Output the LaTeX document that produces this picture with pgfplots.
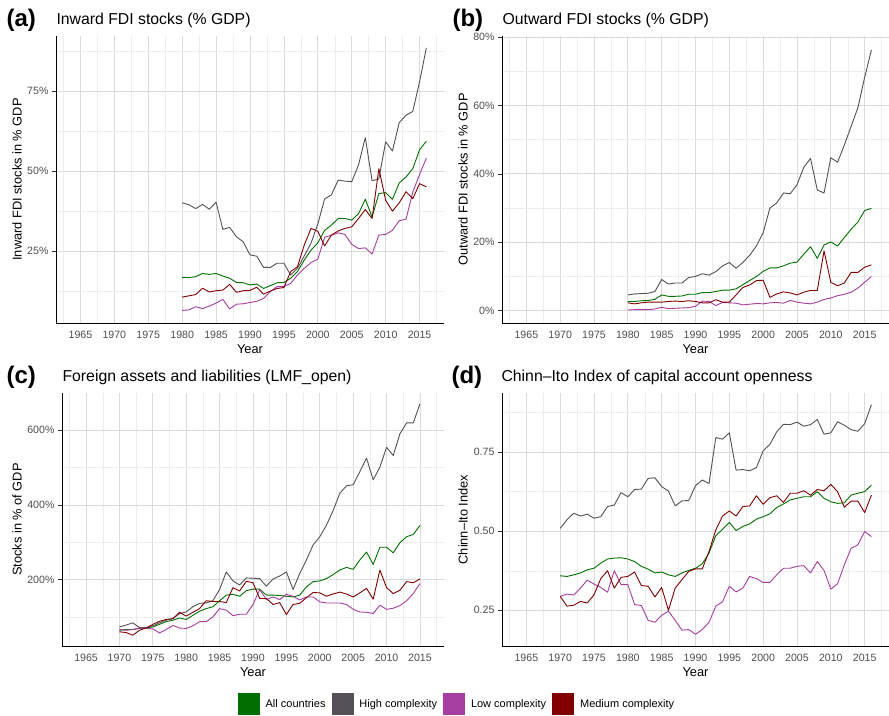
\documentclass[border=0pt]{standalone}
\usepackage{pgfplots}
\usepackage{pgfplotstable}
\pgfplotsset{compat=1.18}
\usepackage{fontspec}
\setmainfont{Liberation Sans}
\definecolor{cAll}{RGB}{0,110,0}
\definecolor{cHigh}{RGB}{85,80,88}
\definecolor{cLow}{RGB}{165,62,160}
\definecolor{cMed}{RGB}{128,0,0}
\definecolor{gridmaj}{RGB}{218,218,218}
\definecolor{gridmin}{RGB}{237,237,237}
\definecolor{ticktext}{RGB}{77,77,77}
\definecolor{tickmark}{RGB}{51,51,51}

\pgfplotstableread{
year all high low med
1980 16.8 40.1 6.4 10.6
1981 16.7 39.5 6.6 11.0
1982 17.0 38.3 7.6 11.4
1983 18.0 39.6 7.0 13.4
1984 17.7 38.1 7.8 12.2
1985 18.0 40.3 8.7 12.6
1986 17.2 31.8 9.9 12.8
1987 16.5 32.4 6.9 14.6
1988 15.2 29.5 8.4 12.1
1989 15.1 27.9 8.5 12.6
1990 14.4 23.8 8.9 12.7
1991 14.7 23.4 9.3 13.7
1992 13.3 19.9 10.2 11.5
1993 14.2 19.9 12.3 12.5
1994 15.1 21.2 13.9 13.3
1995 15.2 21.2 13.9 13.6
1996 16.5 17.5 14.9 18.6
1997 18.6 19.6 17.5 20.1
1998 22.2 23.5 19.6 26.9
1999 25.3 27.5 21.4 32.1
2000 27.6 33.5 22.5 31.2
2001 31.5 41.3 29.3 26.6
2002 33.1 42.6 30.0 30.0
2003 35.2 47.2 30.7 31.3
2004 35.2 46.9 30.2 32.1
2005 34.7 46.7 27.1 32.6
2006 36.7 52.0 25.8 35.2
2007 41.2 60.5 26.0 38.0
2008 35.7 47.0 24.1 35.2
2009 43.0 47.6 30.0 50.8
2010 43.3 59.2 30.2 40.9
2011 41.2 56.3 31.5 37.5
2012 46.3 65.2 34.5 40.1
2013 48.2 67.5 35.0 43.6
2014 50.8 68.7 43.5 41.4
2015 56.7 78.0 49.0 46.1
2016 59.4 88.6 54.1 45.1
}\tabA

\pgfplotstableread{
year all high low med
1980 2.7 4.6 0.2 2.3
1981 2.7 4.9 0.3 2.0
1982 2.9 5.0 0.3 2.3
1983 3.0 5.1 0.3 2.5
1984 3.3 5.6 0.5 2.5
1985 4.6 9.1 1.0 2.5
1986 4.2 7.8 0.6 2.7
1987 4.2 8.1 0.7 2.8
1988 4.3 8.1 0.8 2.7
1989 4.8 9.7 0.9 2.9
1990 4.8 10.0 1.3 2.7
1991 5.3 10.8 2.8 2.3
1992 5.3 10.4 2.7 2.3
1993 5.6 11.4 1.5 3.2
1994 6.0 13.1 2.4 2.5
1995 6.0 14.1 2.3 2.5
1996 6.4 12.4 2.2 4.6
1997 7.6 14.1 1.7 6.8
1998 8.8 16.2 1.9 7.5
1999 10.0 18.9 2.1 8.8
2000 11.5 22.8 2.0 8.9
2001 12.5 30.0 2.3 3.9
2002 12.5 31.5 2.4 4.9
2003 13.1 34.4 2.2 5.5
2004 13.9 34.2 3.0 5.2
2005 14.2 36.8 2.5 4.6
2006 16.5 41.9 2.2 5.4
2007 18.7 44.5 2.0 5.9
2008 15.3 35.3 2.5 5.9
2009 19.2 34.4 3.3 17.5
2010 20.1 44.7 3.7 8.3
2011 18.9 43.4 4.4 7.3
2012 21.4 48.4 4.8 8.1
2013 23.8 53.9 5.4 11.2
2014 25.9 59.3 6.6 11.2
2015 29.3 68.2 8.3 12.7
2016 29.9 76.2 10.0 13.4
}\tabB

\pgfplotstableread{
year all high low med
1970 65 74 67 61
1971 67 79 65 59
1972 67 85 67 52
1973 70 72 71 65
1974 72 72 70 71
1975 74 77 69 81
1976 81 85 58 89
1977 88 92 67 94
1978 92 96 78 96
1979 98 110 71 113
1980 94 114 70 103
1981 105 128 77 113
1982 116 137 88 123
1983 123 138 88 144
1984 128 144 101 142
1985 144 174 123 142
1986 159 221 119 139
1987 161 197 104 179
1988 156 186 108 170
1989 171 205 108 196
1990 175 204 134 192
1991 175 203 174 150
1992 159 183 147 150
1993 159 202 154 134
1994 158 210 147 139
1995 156 221 161 107
1996 154 174 156 134
1997 159 217 146 137
1998 181 253 154 152
1999 195 293 154 166
2000 197 315 141 165
2001 203 346 138 156
2002 214 385 138 162
2003 226 431 138 167
2004 233 451 134 162
2005 228 454 121 154
2006 253 489 114 165
2007 274 525 113 177
2008 241 467 110 148
2009 287 501 132 226
2010 287 554 121 179
2011 272 532 124 163
2012 299 590 131 172
2013 315 619 144 195
2014 321 619 163 192
2015 345 670 190 202
}\tabC

\pgfplotstableread{
year all high low med
1970 0.359 0.509 0.294 0.294
1971 0.357 0.536 0.301 0.263
1972 0.362 0.557 0.298 0.266
1973 0.368 0.548 0.320 0.278
1974 0.378 0.554 0.345 0.273
1975 0.383 0.541 0.333 0.299
1976 0.399 0.546 0.322 0.350
1977 0.412 0.578 0.307 0.375
1978 0.415 0.583 0.375 0.320
1979 0.416 0.622 0.331 0.354
1980 0.412 0.609 0.331 0.357
1981 0.404 0.632 0.268 0.371
1982 0.389 0.633 0.265 0.328
1983 0.380 0.667 0.218 0.326
1984 0.368 0.669 0.212 0.292
1985 0.371 0.641 0.234 0.322
1986 0.362 0.627 0.247 0.250
1987 0.357 0.580 0.218 0.320
1988 0.368 0.596 0.187 0.347
1989 0.376 0.597 0.189 0.373
1990 0.383 0.644 0.174 0.381
1991 0.397 0.662 0.189 0.381
1992 0.431 0.651 0.212 0.436
1993 0.486 0.796 0.263 0.504
1994 0.506 0.791 0.277 0.548
1995 0.528 0.811 0.326 0.564
1996 0.502 0.693 0.308 0.548
1997 0.515 0.695 0.320 0.578
1998 0.523 0.691 0.357 0.580
1999 0.538 0.701 0.350 0.612
2000 0.546 0.754 0.338 0.585
2001 0.555 0.775 0.338 0.606
2002 0.575 0.814 0.362 0.612
2003 0.586 0.838 0.383 0.591
2004 0.599 0.837 0.383 0.620
2005 0.604 0.845 0.389 0.620
2006 0.609 0.832 0.391 0.628
2007 0.609 0.837 0.368 0.614
2008 0.625 0.853 0.404 0.632
2009 0.604 0.807 0.376 0.628
2010 0.593 0.811 0.317 0.648
2011 0.588 0.846 0.334 0.625
2012 0.590 0.835 0.394 0.576
2013 0.614 0.821 0.446 0.595
2014 0.620 0.816 0.457 0.595
2015 0.625 0.840 0.499 0.559
2016 0.646 0.900 0.483 0.614
}\tabD

\pgfplotsset{
  panel/.style={
    scale only axis, anchor=north west,
    xmin=1961.4, xmax=2018.6,
    axis x line*=bottom, axis y line*=left,
    axis line style={black, line width=0.8pt, -},
    xtick={1965,1970,...,2015},
    xticklabels={1965,1970,1975,1980,1985,1990,1995,2000,2005,2010,2015},
    minor xtick={1962.5,1967.5,...,2017.5},
    grid=both,
    major grid style={draw=gridmaj, line width=0.75pt},
    minor grid style={draw=gridmin, line width=0.45pt},
    tick align=outside,
    major tick length=4pt,
    minor tick length=0pt,
    xtick style={draw=none},
    ytick style={draw=tickmark, line width=0.6pt},
    tick label style={font=\fontsize{10.6}{12}\selectfont, text=ticktext},
    xticklabel style={anchor=center, yshift=-8pt},
    yticklabel style={anchor=east},
    every axis x label/.style={at={(axis description cs:0.5,0)}, anchor=center, yshift=-26pt, font=\fontsize{12.8}{14}\selectfont},
    xlabel={Year},
    no markers,
    every axis plot/.append style={line width=0.9pt, line join=round},
    clip=false,
  },
  ylab/.style={every axis y label/.style={at={(axis description cs:#1,0.5)}, rotate=90, anchor=center, font=\fontsize{12.8}{14}\selectfont}},
}
\tikzset{
  ttl/.style={anchor=west, font=\fontsize{15.8}{18}\selectfont},
  lab/.style={anchor=west, font=\bfseries\fontsize{24}{26}\selectfont},
}

\begin{document}
\begin{tikzpicture}
\useasboundingbox (0pt,0pt) rectangle (889pt,-715pt);

% (a)
\begin{axis}[panel, at={(56pt,-36pt)}, width=388pt, height=287pt,
  ymin=2.5, ymax=92.3,
  ytick={25,50,75}, yticklabels={25\%,50\%,75\%},
  minor ytick={12.5,37.5,62.5,87.5},
  ylabel={Inward FDI stocks in \% GDP}, ylab=-0.1005]
\addplot[cAll] table[x=year,y=all]{\tabA};
\addplot[cHigh] table[x=year,y=high]{\tabA};
\addplot[cLow] table[x=year,y=low]{\tabA};
\addplot[cMed] table[x=year,y=med]{\tabA};
\end{axis}

% (b)
\begin{axis}[panel, at={(502pt,-36pt)}, width=387pt, height=287pt,
  ymin=-3.6, ymax=80.3,
  ytick={0,20,40,60,80}, yticklabels={0\%,20\%,40\%,60\%,80\%},
  minor ytick={10,30,50,70},
  ylabel={Outward FDI stocks in \% GDP}, ylab=-0.1008]
\addplot[cAll] table[x=year,y=all]{\tabB};
\addplot[cHigh] table[x=year,y=high]{\tabB};
\addplot[cLow] table[x=year,y=low]{\tabB};
\addplot[cMed] table[x=year,y=med]{\tabB};
\end{axis}

% (c)
\begin{axis}[panel, at={(62pt,-393pt)}, width=382pt, height=253pt,
  ymin=23, ymax=699,
  ytick={200,400,600}, yticklabels={200\%,400\%,600\%},
  minor ytick={100,300,500},
  ylabel={Stocks in \% of GDP}, ylab=-0.1178,
  legend columns=4,
  legend style={at={(axis description cs:1.0314,-0.2285)}, anchor=center, draw=none, fill=none,
    font=\fontsize{11}{13}\selectfont, inner sep=0pt,
    nodes={inner sep=0pt},
    /tikz/every even column/.append style={column sep=6pt},
    /tikz/every odd column/.append style={column sep=6pt}},
  legend image code/.code={\fill[#1] (0pt,-10.5pt) rectangle (21pt,10.5pt);}]
\addplot[cAll] table[x=year,y=all]{\tabC};
\addlegendentry{All countries}
\addplot[cHigh] table[x=year,y=high]{\tabC};
\addlegendentry{High complexity}
\addplot[cLow] table[x=year,y=low]{\tabC};
\addlegendentry{Low complexity}
\addplot[cMed] table[x=year,y=med]{\tabC};
\addlegendentry{Medium complexity}
\end{axis}

% (d)
\begin{axis}[panel, at={(502pt,-393pt)}, width=387pt, height=253pt,
  ymin=0.137, ymax=0.937,
  ytick={0.25,0.5,0.75}, yticklabels={0.25,0.50,0.75},
  minor ytick={0.375,0.625,0.875},
  ylabel={Chinn--Ito Index}, ylab=-0.1008]
\addplot[cAll] table[x=year,y=all]{\tabD};
\addplot[cHigh] table[x=year,y=high]{\tabD};
\addplot[cLow] table[x=year,y=low]{\tabD};
\addplot[cMed] table[x=year,y=med]{\tabD};
\end{axis}

\node[lab] at (3pt,-20pt) {(a)};
\node[ttl] at (53pt,-20pt) {Inward FDI stocks (\% GDP)};
\node[lab] at (449pt,-20pt) {(b)};
\node[ttl] at (499pt,-20pt) {Outward FDI stocks (\% GDP)};
\node[lab] at (3pt,-377pt) {(c)};
\node[ttl] at (59pt,-377pt) {Foreign assets and liabilities (LMF\_open)};
\node[lab] at (448pt,-377pt) {(d)};
\node[ttl] at (498pt,-377pt) {Chinn--Ito Index of capital account openness};
\end{tikzpicture}
\end{document}
